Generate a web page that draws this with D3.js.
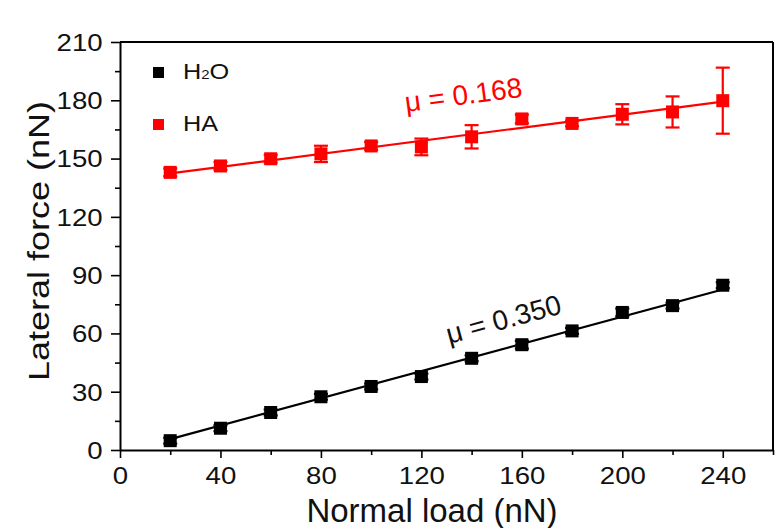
<!DOCTYPE html>
<html>
<head>
<meta charset="utf-8">
<script src="https://cdn.jsdelivr.net/npm/d3@7"></script>
<style>
  body { margin: 0; background: #fff; }
  text { font-family: "Liberation Sans", Arial, sans-serif; }
</style>
</head>
<body>
<div id="chart"></div>
<script>
const width = 781;
const height = 528;

// data
const loads = [20, 40, 60, 80, 100, 120, 140, 160, 180, 200, 220, 240];
const waterForce = [4.8, 11.2, 19.3, 27.4, 32.7, 37.8, 47.2, 54.2, 61.3, 70.8, 74.3, 84.8];
const waterErr = [1.5, 1.5, 1.5, 1.5, 1.5, 1.5, 1.5, 2, 1.5, 2, 1.5, 1.5];
const haForce = [142.9, 146.2, 149.9, 152.4, 156.5, 156.0, 161.2, 170.4, 168.1, 172.8, 174.0, 179.8];
const haErr = [2, 2, 2, 4.2, 2, 4.3, 6, 2.2, 1.5, 5.2, 8, 17];
const waterFit = { slope: 0.350, intercept: -1.4 };
const haFit = { slope: 0.168, intercept: 139.0 };

const xMajor = [0, 40, 80, 120, 160, 200, 240];
const xMinor = [20, 60, 100, 140, 180, 220, 260];
const yMajor = [0, 30, 60, 90, 120, 150, 180, 210];
const yMinor = [15, 45, 75, 105, 135, 165, 195];

const plotLeft = 120, plotRight = 773, plotTop = 42, plotBottom = 450;

var svg = d3.select("#chart").append("svg")
  .attr("width", width)
  .attr("height", height);

var x = d3.scaleLinear().domain([0, 260]).range([plotLeft, plotRight]);
var y = d3.scaleLinear().domain([0, 210]).range([plotBottom, plotTop]);

// frame (top and right)
svg.append("line").attr("x1", plotLeft).attr("x2", plotRight).attr("y1", plotTop).attr("y2", plotTop)
  .attr("stroke", "#000").attr("stroke-width", 2);
svg.append("line").attr("x1", plotRight).attr("x2", plotRight).attr("y1", plotTop).attr("y2", plotBottom)
  .attr("stroke", "#000").attr("stroke-width", 2);

// x axis
var xAxis = svg.append("g").attr("transform", "translate(0," + plotBottom + ")")
  .call(d3.axisBottom(x).tickValues(xMajor).tickSize(8).tickSizeOuter(0));
svg.append("g").attr("transform", "translate(0," + plotBottom + ")")
  .call(d3.axisBottom(x).tickValues(xMinor).tickSize(5).tickSizeOuter(0).tickFormat(""))
  .select(".domain").remove();

// y axis
var yAxis = svg.append("g").attr("transform", "translate(" + plotLeft + ",0)")
  .call(d3.axisLeft(y).tickValues(yMajor).tickSize(9).tickSizeOuter(0));
svg.append("g").attr("transform", "translate(" + plotLeft + ",0)")
  .call(d3.axisLeft(y).tickValues(yMinor).tickSize(5).tickSizeOuter(0).tickFormat(""))
  .select(".domain").remove();

svg.selectAll(".domain").attr("stroke-width", 2);
svg.selectAll(".tick line").attr("stroke-width", 1.6);

xAxis.selectAll("text")
  .attr("y", 34).attr("dy", null)
  .attr("font-size", 23)
  .attr("fill", "#111")
  .attr("transform", "scale(1.2,1)");
yAxis.selectAll("text")
  .attr("x", -14.5).attr("dy", "0.36em")
  .attr("font-size", 23)
  .attr("fill", "#111")
  .attr("transform", "scale(1.2,1)");

// axis titles
svg.append("text")
  .attr("x", 432).attr("y", 522)
  .attr("text-anchor", "middle")
  .attr("font-size", 33)
  .attr("fill", "#111")
  .text("Normal load (nN)");

svg.append("text")
  .attr("transform", "translate(49,241) rotate(-90) scale(1.2,1)")
  .attr("text-anchor", "middle")
  .attr("font-size", 30)
  .attr("fill", "#111")
  .text("Lateral force (nN)");

// series
function drawSeries(vals, errs, fit, color) {
  var pts = loads.map((d, i) => ({ x: d, y: vals[i], e: errs[i] }));

  svg.append("line")
    .attr("x1", x(loads[0])).attr("y1", y(fit.intercept + fit.slope * loads[0]))
    .attr("x2", x(loads[loads.length - 1])).attr("y2", y(fit.intercept + fit.slope * loads[loads.length - 1]))
    .attr("stroke", color).attr("stroke-width", 2.2);

  var g = svg.append("g");
  var bars = g.selectAll("g.err").data(pts).enter().append("g").attr("class", "err")
    .attr("stroke", color).attr("stroke-width", 2.2);
  bars.append("line")
    .attr("x1", (d) => x(d.x)).attr("x2", (d) => x(d.x))
    .attr("y1", (d) => y(d.y - d.e)).attr("y2", (d) => y(d.y + d.e));
  bars.append("line")
    .attr("x1", (d) => x(d.x) - 7).attr("x2", (d) => x(d.x) + 7)
    .attr("y1", (d) => y(d.y - d.e)).attr("y2", (d) => y(d.y - d.e));
  bars.append("line")
    .attr("x1", (d) => x(d.x) - 7).attr("x2", (d) => x(d.x) + 7)
    .attr("y1", (d) => y(d.y + d.e)).attr("y2", (d) => y(d.y + d.e));

  g.selectAll("rect").data(pts).enter().append("rect")
    .attr("x", (d) => x(d.x) - 6.5).attr("y", (d) => y(d.y) - 6.5)
    .attr("width", 13).attr("height", 13)
    .attr("fill", color);
}

drawSeries(waterForce, waterErr, waterFit, "#000");
drawSeries(haForce, haErr, haFit, "#ff0000");

// slope labels, parallel to the fit lines
function angleOf(fit) {
  var dy = y(fit.slope * 100) - y(0);
  var dx = x(100) - x(0);
  return Math.atan2(dy, dx) * 180 / Math.PI;
}
svg.append("text")
  .attr("transform", "translate(406,112) rotate(" + angleOf(haFit) + ")")
  .attr("font-size", 28)
  .attr("fill", "#ff0000")
  .text("\u03bc = 0.168");
svg.append("text")
  .attr("transform", "translate(449,344) rotate(" + angleOf(waterFit) + ")")
  .attr("font-size", 28)
  .attr("fill", "#111")
  .text("\u03bc = 0.350");

// legend
const legendNames = ["H2O", "HA"];
const legendColors = ["#000", "#ff0000"];
var legend = svg.selectAll("g.legend").data(legendNames).enter().append("g")
  .attr("class", "legend")
  .attr("transform", (d, i) => "translate(153," + (67 + i * 52) + ")");
legend.append("rect")
  .attr("width", 11).attr("height", 11)
  .attr("fill", (d, i) => legendColors[i]);
var ltext = legend.append("text")
  .attr("transform", "translate(30,12) scale(1.15,1)")
  .attr("font-size", 22)
  .attr("fill", "#111");
ltext.each(function (d) {
  var t = d3.select(this);
  if (d === "H2O") {
    t.append("tspan").text("H");
    t.append("tspan").attr("font-size", 13).text("2");
    t.append("tspan").text("O");
  } else {
    t.text(d);
  }
});
</script>
</body>
</html>
